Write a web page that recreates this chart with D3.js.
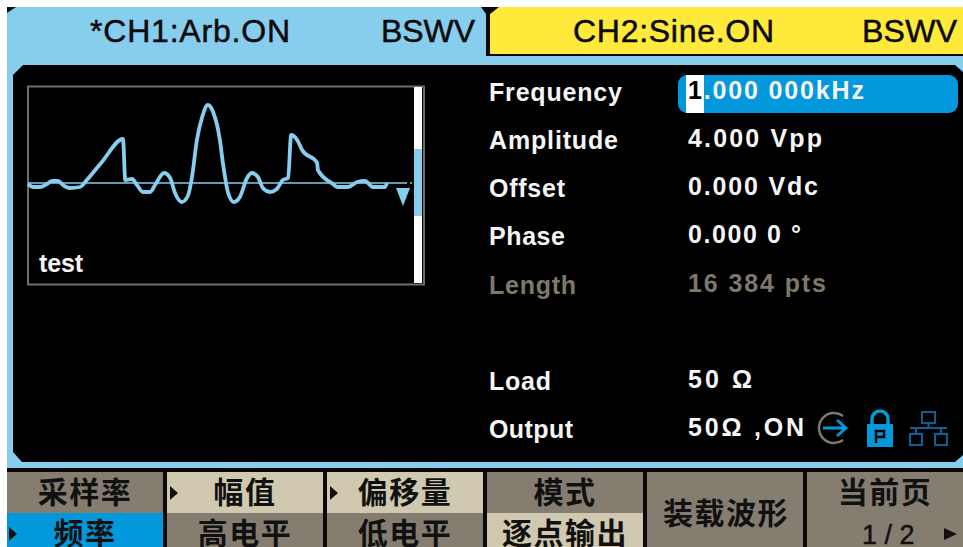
<!DOCTYPE html>
<head>
  <meta charset="utf-8">
  <script src="https://d3js.org/d3.v7.min.js"></script>
  <style>
    body { margin:0; background:#fff; overflow:hidden; }
    svg { display:block; }
    .head { font-family:"Liberation Sans"; font-size:32px; fill:#0b0b0b; stroke:#0b0b0b; stroke-width:.5px; }
    .param { font-family:"Liberation Sans"; font-weight:bold; font-size:25px; fill:#f5f5f5; }
    .menu { font-family:"Noto Sans CJK SC"; font-weight:bold; font-size:30px; letter-spacing:1.500px; fill:#111; text-anchor:middle; }
  </style>
</head>
<body>
<script>
  // waveform: position in % of the 16384 pts, level in volts
  var wavePct = [0,1.3,3.2,5,6.4,8,9.3,11.1,13.8,15.6,19.6,25.2,25.8,27.6,28.9,30.5,32.4,33.7,36.1,37.7,39,40.8,42.4,43.5,44.8,46.2,47.7,49.1,50.9,51.7,53.1,54.6,56.2,58.1,59.4,61,62.3,64.2,66,67.6,69,69.8,71.4,72.7,76.7,76.9,80.9,82,84.9,87.3,89.4,91.5,94.7,95.2];
  var waveVolts = [0,-.075,-.075,0,.075,.075,-.025,-.1,-.075,.1,.55,1.125,.1,.125,-.025,-.2,-.2,-.025,.275,.15,-.225,-.45,-.3,.175,1.1,1.675,1.975,1.8,1.1,.525,-.225,-.45,-.325,.15,.275,.175,-.1,-.2,-.125,.1,.15,1.225,1.1,.85,.525,.35,0,-.075,-.075,.05,.075,-.075,-.075,.025];

  var paramLabels = ["Frequency","Amplitude","Offset","Phase","Length","Load","Output"];
  var paramValues = ["1.000 000kHz","4.000 Vpp","0.000 Vdc","0.000 0 °","16 384 pts","50 Ω","50Ω ,ON"];
  var paramRows = [0,1,2,3,4,6,7];
  var labelWidths = [133,129,76,76,87,62,84];
  var valueWidths = [176,134,130,113,138,64,116];

  var menuTop = ["采样率","幅值","偏移量","模式","","当前页"];
  var menuBottom = ["频率","高电平","低电平","逐点输出","","1 / 2"];

  var blue = "#87cdee", yellow = "#ffe93b", active = "#0398db", grey = "#857e70", cream = "#d0c9b0";
  var topFill = [grey,cream,cream,grey,grey,grey];
  var bottomFill = [active,grey,grey,cream,grey,grey];
  var arrowTop = [false,true,true,false,false,false];
  var arrowBottom = [true,false,false,false,false,false];

  var svg = d3.select("body").append("svg").attr("width",963).attr("height",547);

  // --- frame
  svg.append("rect").attr("x",7).attr("y",7).attr("width",956).attr("height",465).attr("fill",blue);
  svg.append("path").attr("d","M7,7H16L7,13Z").attr("fill","#111");
  svg.append("rect").attr("x",7).attr("y",468).attr("width",956).attr("height",79).attr("fill","#0a0a0a");

  // tabs
  svg.append("rect").attr("x",486).attr("y",7).attr("width",477).attr("height",49).attr("fill","#0a0a0a");
  svg.append("rect").attr("x",490).attr("y",7).attr("width",473).attr("height",47).attr("fill",yellow);
  svg.append("path").attr("d","M481,7H499L490,14V20H486V14Z").attr("fill","#0a0a0a");
  svg.append("text").attr("class","head").attr("x",90).attr("y",42).attr("textLength",200).text("*CH1:Arb.ON");
  svg.append("text").attr("class","head").attr("x",381).attr("y",42).attr("textLength",94).text("BSWV");
  svg.append("text").attr("class","head").attr("x",573).attr("y",42).attr("textLength",201).text("CH2:Sine.ON");
  svg.append("text").attr("class","head").attr("x",862).attr("y",42).attr("textLength",95).text("BSWV");

  // black panel
  svg.append("path").attr("d","M23,65H955L963,72V455L955,462H22L13,452V75Z").attr("fill","#000");

  // --- waveform box
  svg.append("rect").attr("x",28).attr("y",86.5).attr("width",396).attr("height",198)
    .attr("fill","none").attr("stroke","#6e6e6e").attr("stroke-width",2);

  var x = d3.scaleLinear().domain([0,100]).range([28,405]);
  var y = d3.scaleLinear().domain([-2.5,2.5]).range([284,84]);

  svg.append("line").attr("x1",x(0)).attr("x2",x(100)).attr("y1",y(0)-1).attr("y2",y(0)-1)
    .attr("stroke",blue).attr("stroke-width",1.5);
  svg.append("line").attr("x1",x(100)).attr("x2",414).attr("y1",y(0)-1).attr("y2",y(0)-1)
    .attr("stroke","#bbb").attr("stroke-width",1.5).attr("stroke-dasharray","2 3");

  var line = d3.line().curve(d3.curveMonotoneX).x(function(d){ return x(d[0]); }).y(function(d){ return y(d[1]); });
  svg.append("path").datum(d3.zip(wavePct,waveVolts)).attr("d",line)
    .attr("fill","none").attr("stroke",blue).attr("stroke-width",3.8).attr("stroke-linejoin","round");

  svg.append("path").attr("d","M396,188H410L403,206Z").attr("fill",blue);

  // scroll bar
  svg.append("rect").attr("x",414).attr("y",87).attr("width",8).attr("height",196).attr("fill","#fff");
  svg.append("rect").attr("x",414).attr("y",149).attr("width",8).attr("height",67).attr("fill",blue);

  svg.append("text").attr("x",39).attr("y",272).attr("font-family","Liberation Sans").attr("font-weight","bold")
    .attr("font-size",25).attr("fill","#f5f5f5").attr("textLength",44).text("test");

  // --- selected field
  svg.append("rect").attr("x",678).attr("y",75).attr("width",280).attr("height",38).attr("rx",9).attr("fill",active);
  svg.append("rect").attr("x",686).attr("y",75).attr("width",18).attr("height",38).attr("fill","#fff");

  // --- parameters
  var rowY = d3.scaleLinear().domain([0,7]).range([101,438]);

  svg.selectAll(".plabel").data(paramLabels).enter().append("text")
    .attr("class","param plabel")
    .attr("x",489)
    .attr("y",function(d,i){ return rowY(paramRows[i]); })
    .attr("textLength",function(d,i){ return labelWidths[i]; })
    .style("fill",function(d){ return d=="Length" ? "#7d776c" : null; })
    .text(function(d){ return d; });

  svg.selectAll(".pvalue").data(paramValues).enter().append("text")
    .attr("class","param pvalue")
    .attr("x",688)
    .attr("y",function(d,i){ return rowY(paramRows[i])-2; })
    .attr("textLength",function(d,i){ return valueWidths[i]; })
    .style("fill",function(d){ return d=="16 384 pts" ? "#7d776c" : null; })
    .each(function(d,i){
      // first digit of the frequency sits on the white cursor
      if (i==0) {
        d3.select(this).append("tspan").style("fill","#000").text(d.charAt(0));
        d3.select(this).append("tspan").text(d.slice(1));
      } else {
        d3.select(this).text(d);
      }
    });

  // --- status icons
  svg.append("path").attr("d","M843,416A15,15 0 1 0 843,440").attr("fill","none").attr("stroke","#7d776c").attr("stroke-width",2.5);
  svg.append("path").attr("d","M823,428H846M837,420L846,428L837,436").attr("fill","none").attr("stroke",active).attr("stroke-width",3);

  svg.append("path").attr("d","M872,425V419A8,8 0 0 1 888,419V425").attr("fill","none").attr("stroke",active).attr("stroke-width",3.5);
  svg.append("rect").attr("x",867).attr("y",424).attr("width",26).attr("height",23).attr("fill",active);
  svg.append("path").attr("d","M876,443V431H884V437H877").attr("fill","none").attr("stroke","#000").attr("stroke-width",2.5);

  svg.append("path")
    .attr("d","M922,412H935V423H922ZM928.500,423V428M910,428H947M916,428V434M941,428V434M910,434H922V445H910ZM935,434H947V445H935Z")
    .attr("fill","none").attr("stroke","#0a5f94").attr("stroke-width",2);

  // --- soft menu
  var col = d3.scaleLinear().domain([0,6]).range([7,967]);

  svg.selectAll(".celltop").data(menuTop).enter().append("rect")
    .attr("x",function(d,i){ return col(i); }).attr("y",472)
    .attr("width",156).attr("height",41)
    .attr("fill",function(d,i){ return topFill[i]; });
  svg.selectAll(".cellbot").data(menuBottom).enter().append("rect")
    .attr("x",function(d,i){ return col(i); }).attr("y",513)
    .attr("width",156).attr("height",34)
    .attr("fill",function(d,i){ return bottomFill[i]; });

  svg.selectAll(".mtop").data(menuTop).enter().append("text")
    .attr("class","menu")
    .attr("x",function(d,i){ return col(i)+78; }).attr("y",503)
    .text(function(d){ return d; });
  svg.selectAll(".mbot").data(menuBottom.slice(0,4)).enter().append("text")
    .attr("class","menu")
    .attr("x",function(d,i){ return col(i)+78; }).attr("y",544)
    .text(function(d){ return d; });

  svg.append("text").attr("class","menu").attr("x",726).attr("y",524).text("装载波形");
  svg.append("text").attr("x",862).attr("y",544).attr("font-family","Liberation Sans").attr("font-size",27)
    .attr("fill","#111").attr("stroke","#111").attr("stroke-width",.5).text(menuBottom[5]);

  arrowTop.forEach(function(a,i){
    if (a) svg.append("path").attr("d","M"+(col(i)+3)+",486l8,7l-8,7Z").attr("fill","#111");
  });
  arrowBottom.forEach(function(a,i){
    if (a) svg.append("path").attr("d","M"+(col(i)+2)+",527l8,7l-8,7Z").attr("fill","#111");
  });
  svg.append("path").attr("d","M944,528l13,6l-13,6Z").attr("fill","#111");
</script>
</body>
